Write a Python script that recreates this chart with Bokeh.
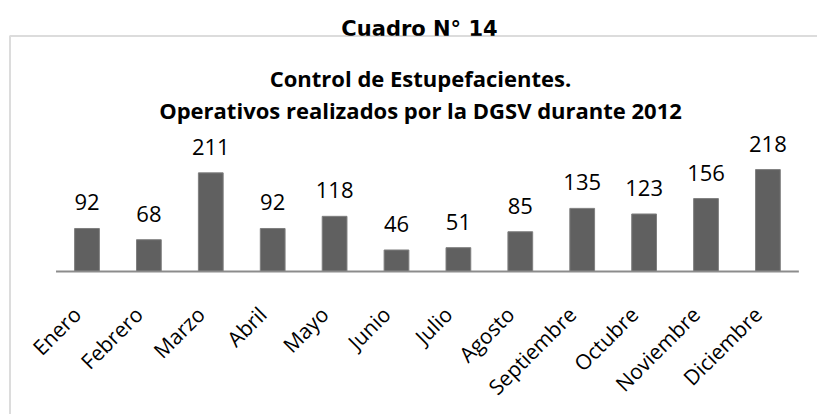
from math import pi
from bokeh.plotting import figure
from bokeh.models import ColumnDataSource, Range1d, LabelSet, Label, PolyAnnotation
from bokeh.core.properties import value
from bokeh.embed import file_html
from bokeh.resources import INLINE

months = ["Enero", "Febrero", "Marzo", "Abril", "Mayo", "Junio", "Julio",
          "Agosto", "Septiembre", "Octubre", "Noviembre", "Diciembre"]
values = [92, 68, 211, 92, 118, 46, 51, 85, 135, 123, 156, 218]
header = "Cuadro N° 14"
title_1 = "Control de Estupefacientes."
title_2 = "Operativos realizados por la DGSV durante 2012"

n = len(months)
source = ColumnDataSource(data=dict(pos=list(range(n)), month=months, value=values,
                                    zero=[0] * n, label=[str(v) for v in values]))

# frame = whole canvas; 1 category = 61.9 px, 1 unit = 0.4675 px
p = figure(width=817, height=414, output_backend="svg", toolbar_location=None,
           x_range=Range1d(-1.397, 11.801), y_range=Range1d(-305.9, 579.7),
           x_axis_location=None, y_axis_location=None, min_border=0)
p.background_fill_color = "white"
p.border_fill_color = "white"
p.outline_line_color = None
p.grid.visible = False

p.vbar(x="pos", top="value", width=0.4, source=source,
       fill_color="#606060", line_color="#7f7f7f", line_width=1)

# category axis baseline
p.segment(x0=-0.5, x1=n - 0.5, y0=0, y1=0, line_color="#8c8c8c", line_width=2)

# value labels
p.add_layout(LabelSet(x="pos", y="value", text="label", source=source,
                      y_offset=18, text_align="center", text_baseline="alphabetic",
                      text_font=value("Open Sans"), text_font_size="22px",
                      text_color="black"))

# category tick labels (rotated 45 degrees)
p.add_layout(LabelSet(x="pos", y="zero", text="month", source=source,
                      angle=pi / 4, x_offset=-10, y_offset=-39,
                      text_align="right", text_baseline="middle",
                      text_font=value("Open Sans"), text_font_size="21px",
                      text_color="black"))

p.add_layout(Label(x=419, y=386, x_units="screen", y_units="screen", text=header,
                   text_align="center", text_baseline="alphabetic",
                   text_font="DejaVu Sans", text_font_style="bold",
                   text_font_size="21px", text_color="black"))
p.add_layout(Label(x=420, y=337, x_units="screen", y_units="screen", text=title_1,
                   text_align="center", text_baseline="alphabetic",
                   text_font="Open Sans", text_font_style="bold",
                   text_font_size="22px", text_color="black"))
p.add_layout(Label(x=420, y=304.5, x_units="screen", y_units="screen", text=title_2,
                   text_align="center", text_baseline="alphabetic",
                   text_font="Open Sans", text_font_style="bold",
                   text_font_size="22px", text_color="black"))

# chart-area border (left and top edges visible, the rest runs off the page)
p.add_layout(PolyAnnotation(xs=[9.5, 9.5, 900, 900], ys=[-50, 378.5, 378.5, -50],
                            xs_units="screen", ys_units="screen",
                            fill_alpha=0, line_color="#8c8c8c", line_width=2))

open("out.html", "w").write(file_html(p, INLINE))
